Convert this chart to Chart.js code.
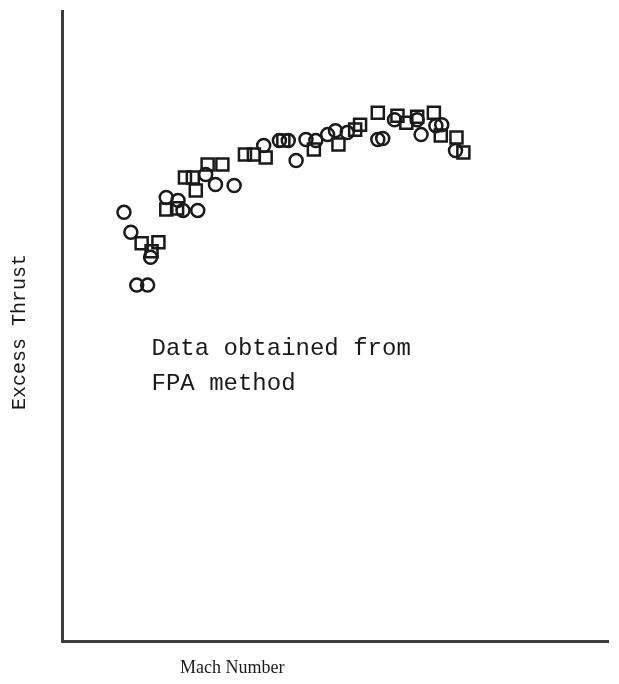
<!DOCTYPE html>
<html>
<head>
<meta charset="utf-8">
<script src="https://cdn.jsdelivr.net/npm/chart.js@4"></script>
<style>
  html, body { margin: 0; padding: 0; background: #ffffff; }
  #wrap { width: 619px; height: 684px; position: relative; }
</style>
</head>
<body>
<div id="wrap"><canvas id="c" width="619" height="684"></canvas></div>
<script>
// Axis units are arbitrary (the original figure has no tick values): 0..100 on both axes.
const xTitle = "Mach Number";
const yTitle = "Excess Thrust";
const noteLines = ["Data obtained from", "FPA method"];

// Circle-symbol series (Mach, Excess thrust)
const circleMach   = [11.35, 12.61, 16.22, 13.69, 15.68, 19.10, 21.26, 22.16, 24.86, 26.31, 28.11, 31.53,
                      36.94, 39.82, 41.44, 42.88, 44.68, 46.49, 48.65, 50.09, 52.25, 57.84, 58.74, 60.90,
                      65.05, 65.77, 68.47, 69.55, 72.07];
const circleThrust = [68.04, 64.87, 60.92, 56.49, 56.49, 70.41, 69.94, 68.35, 68.35, 74.05, 72.47, 72.31,
                      78.64, 79.43, 79.43, 76.27, 79.59, 79.43, 80.38, 81.01, 80.70, 79.59, 79.75, 82.75,
                      82.75, 80.38, 81.80, 81.96, 77.85];

// Square-symbol series (Mach, Excess thrust)
const squareMach   = [14.59, 17.66, 16.40, 19.10, 21.08, 22.52, 23.96, 24.50, 26.67, 29.37, 33.51, 35.14,
                      37.30, 40.54, 46.13, 50.63, 53.69, 54.59, 57.84, 61.44, 63.06, 65.05, 68.11, 69.37,
                      72.25, 73.51];
const squareThrust = [63.13, 63.29, 61.87, 68.51, 68.67, 73.58, 73.58, 71.52, 75.63, 75.63, 77.22, 77.22,
                      76.74, 79.43, 78.01, 78.80, 81.17, 81.96, 83.86, 83.39, 82.28, 83.23, 83.86, 80.22,
                      79.91, 77.53];

const ink = '#1a1a1a';
const axisInk = '#3d3d3d';

const toPoints = (xs, ys) => xs.map((x, i) => ({ x: x, y: ys[i] }));

const textPlugin = {
  id: 'textLayer',
  afterDraw(chart, args, opts) {
    const ctx = chart.ctx;
    const xs = chart.scales.x, ys = chart.scales.y;
    ctx.save();
    ctx.fillStyle = ink;
    // annotation
    ctx.font = opts.noteFont;
    ctx.textAlign = 'left';
    ctx.textBaseline = 'middle';
    const nx = xs.getPixelForValue(opts.noteX);
    const ny = ys.getPixelForValue(opts.noteY);
    noteLines.forEach((t, i) => ctx.fillText(t, nx, ny + i * opts.noteLineGap));
    // x title
    ctx.font = opts.xFont;
    ctx.fillText(xTitle, opts.xTitleX, opts.xTitleY);
    // y title
    ctx.font = opts.yFont;
    ctx.translate(opts.yTitleX, opts.yTitleY);
    ctx.rotate(-Math.PI / 2);
    ctx.textAlign = 'center';
    ctx.fillText(yTitle, 0, 0);
    ctx.restore();
  }
};

new Chart(document.getElementById('c'), {
  type: 'scatter',
  data: {
    datasets: [
      {
        label: 'Circles',
        data: toPoints(circleMach, circleThrust),
        pointStyle: 'circle',
        pointRadius: 6.5,
        borderWidth: 2.5,
        borderColor: ink,
        backgroundColor: 'rgba(255,255,255,0)'
      },
      {
        label: 'Squares',
        data: toPoints(squareMach, squareThrust),
        pointStyle: 'rect',
        pointRadius: 8.5,
        borderWidth: 2.5,
        borderColor: ink,
        backgroundColor: 'rgba(255,255,255,0)'
      }
    ]
  },
  options: {
    responsive: false,
    animation: false,
    layout: { padding: { left: 62, top: 8, right: 1, bottom: 43 } },
    plugins: {
      legend: { display: false },
      tooltip: { enabled: false },
      textLayer: {
        noteX: 16.4, noteY: 46.4, noteLineGap: 35,
        noteFont: '24px "Liberation Mono"',
        xFont: '18px "Liberation Serif"', xTitleX: 180, xTitleY: 668,
        yFont: '20px "Liberation Mono"', yTitleX: 20, yTitleY: 332
      }
    },
    scales: {
      x: {
        type: 'linear', min: 0, max: 100,
        ticks: { display: false },
        grid: { display: false, drawTicks: false },
        border: { display: true, color: axisInk, width: 3 }
      },
      y: {
        type: 'linear', min: 0, max: 100,
        ticks: { display: false },
        grid: { display: false, drawTicks: false },
        border: { display: true, color: axisInk, width: 3 }
      }
    }
  },
  plugins: [textPlugin]
});
</script>
</body>
</html>
